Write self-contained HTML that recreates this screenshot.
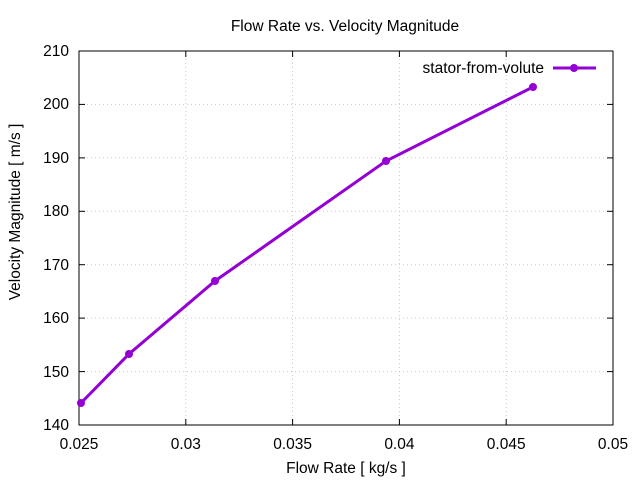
<!DOCTYPE html>
<html><head><style>body{margin:0;background:#fff}svg{display:block}text{font-family:"Liberation Sans",sans-serif;font-size:15.5px;fill:#000}</style></head>
<body>
<svg width="640" height="480" xmlns="http://www.w3.org/2000/svg">
<g stroke="#c8c8c8" stroke-width="1" stroke-dasharray="1,3">
<line x1="79" y1="104.4" x2="613" y2="104.4"/><line x1="79" y1="157.9" x2="613" y2="157.9"/>
<line x1="79" y1="211.3" x2="613" y2="211.3"/><line x1="79" y1="264.7" x2="613" y2="264.7"/>
<line x1="79" y1="318.1" x2="613" y2="318.1"/><line x1="79" y1="371.6" x2="613" y2="371.6"/>
<line x1="79" y1="51" x2="613" y2="51"/>
<line x1="185.8" y1="51" x2="185.8" y2="425"/><line x1="292.6" y1="51" x2="292.6" y2="425"/>
<line x1="399.4" y1="51" x2="399.4" y2="425"/><line x1="506.2" y1="51" x2="506.2" y2="425"/>
</g>
<rect x="79" y="51" width="534" height="374" fill="none" stroke="#000"/>
<g stroke="#000">
<line x1="79" y1="104.4" x2="85" y2="104.4"/><line x1="79" y1="157.9" x2="85" y2="157.9"/><line x1="79" y1="211.3" x2="85" y2="211.3"/><line x1="79" y1="264.7" x2="85" y2="264.7"/><line x1="79" y1="318.1" x2="85" y2="318.1"/><line x1="79" y1="371.6" x2="85" y2="371.6"/>
<line x1="613" y1="104.4" x2="607" y2="104.4"/><line x1="613" y1="157.9" x2="607" y2="157.9"/><line x1="613" y1="211.3" x2="607" y2="211.3"/><line x1="613" y1="264.7" x2="607" y2="264.7"/><line x1="613" y1="318.1" x2="607" y2="318.1"/><line x1="613" y1="371.6" x2="607" y2="371.6"/>
<line x1="185.8" y1="425" x2="185.8" y2="419"/><line x1="292.6" y1="425" x2="292.6" y2="419"/><line x1="399.4" y1="425" x2="399.4" y2="419"/><line x1="506.2" y1="425" x2="506.2" y2="419"/>
<line x1="185.8" y1="51" x2="185.8" y2="57"/><line x1="292.6" y1="51" x2="292.6" y2="57"/><line x1="399.4" y1="51" x2="399.4" y2="57"/><line x1="506.2" y1="51" x2="506.2" y2="57"/>
</g>
<g text-anchor="end">
<text x="69" y="56">210</text><text x="69" y="109">200</text><text x="69" y="163">190</text><text x="69" y="216">180</text><text x="69" y="270">170</text><text x="69" y="323">160</text><text x="69" y="377">150</text><text x="69" y="430">140</text>
</g>
<g text-anchor="middle">
<text x="79" y="449">0.025</text><text x="185.8" y="449">0.03</text><text x="292.6" y="449">0.035</text><text x="399.4" y="449">0.04</text><text x="506.2" y="449">0.045</text><text x="613" y="449">0.05</text>
<text x="346" y="473">Flow Rate [ kg/s ]</text>
<text x="345" y="31">Flow Rate vs. Velocity Magnitude</text>
<text transform="translate(20,212) rotate(-90)">Velocity Magnitude [ m/s ]</text>
</g>
<text x="544" y="73" text-anchor="end">stator-from-volute</text>
<g stroke="#9400d3" stroke-width="3" fill="none">
<line x1="553" y1="68" x2="596" y2="68"/>
<polyline points="81,403 129,354 215,281 386,161 533,87"/>
</g>
<g fill="#9400d3">
<circle cx="574" cy="68" r="4"/>
<circle cx="81" cy="403" r="4"/><circle cx="129" cy="354" r="4"/><circle cx="215" cy="281" r="4"/><circle cx="386" cy="161" r="4"/><circle cx="533" cy="87" r="4"/>
</g>
</svg>
</body></html>
